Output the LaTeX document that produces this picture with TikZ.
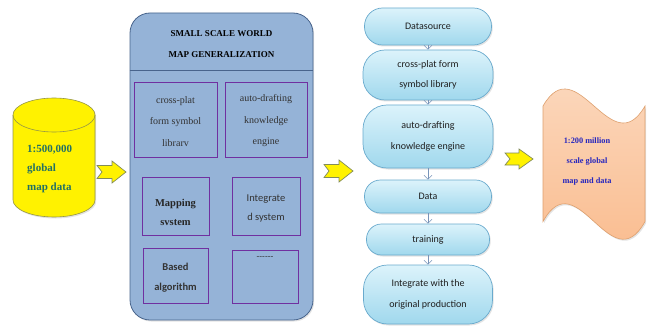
\documentclass[tikz,border=0pt]{standalone}
\usepackage{fontspec}
\setmainfont{Liberation Serif}
\newfontfamily\calibri{Carlito}
\usetikzlibrary{arrows.meta,shadows}
\definecolor{cylborder}{RGB}{150,150,70}
\definecolor{cyltext}{RGB}{35,112,100}
\definecolor{arrborder}{RGB}{130,140,90}
\definecolor{bigfill}{RGB}{149,179,215}
\definecolor{bigborder}{RGB}{72,100,140}
\definecolor{innerborder}{RGB}{112,48,160}
\definecolor{innertext}{RGB}{50,50,50}
\definecolor{rtop}{RGB}{220,243,251}
\definecolor{rbot}{RGB}{160,216,237}
\definecolor{rborder}{RGB}{105,170,205}
\definecolor{connc}{RGB}{120,148,185}
\definecolor{wtop}{RGB}{252,220,196}
\definecolor{wbot}{RGB}{249,184,136}
\definecolor{wborder}{RGB}{222,160,110}
\definecolor{wtext}{RGB}{38,38,190}
\begin{document}
\begin{tikzpicture}[x=1pt,y=-1pt,
  softshadow/.style={drop shadow={opacity=0.22,shadow xshift=1.2pt,shadow yshift=-1.5pt}},
  cyl/.style={draw=cylborder,fill=yellow,line width=0.6pt,softshadow},
  blockarrow/.style={draw=arrborder,fill=yellow,line width=0.7pt,line join=miter},
  bigbox/.style={draw=bigborder,fill=bigfill,line width=0.8pt,rounded corners=20pt,softshadow,inner sep=0pt},
  innerbox/.style={draw=innerborder,line width=0.8pt,inner sep=0pt},
  serifin/.style={font=\fontsize{10}{21.5}\selectfont,text=innertext,align=center,inner sep=0pt},
  rnode/.style={draw=rborder,line width=0.7pt,top color=rtop,bottom color=rbot,softshadow,
    font=\calibri\fontsize{10}{20.5}\selectfont,text=black!88,align=center,inner sep=0pt,minimum width=128pt},
  conn/.style={draw=connc,line width=0.6pt,-{Straight Barb[length=4pt,width=8pt]}},
  wave/.style={draw=wborder,top color=wtop,bottom color=wbot,line width=0.6pt,softshadow}
]
\useasboundingbox (0,0) rectangle (647,326);

% input cylinder
\path[cyl] (13,115) -- (13,200) arc[start angle=180,end angle=360,x radius=41pt,y radius=17pt]
  -- (95,115) arc[start angle=0,end angle=180,x radius=41pt,y radius=17pt] -- cycle;
\draw[cylborder,line width=0.6pt] (13,115) arc[start angle=180,end angle=360,x radius=41pt,y radius=17pt];
\node[anchor=west,align=left,inner sep=0pt,text=cyltext,font=\bfseries\fontsize{11}{19}\selectfont] (src) at (27,169)
  {1:500,000\\global\\map data};

% block arrows
\path[blockarrow] (97,165.5) -- (112,165.5) -- (112,161) -- (126,172) -- (112,183) -- (112,178.5) -- (97,178.5) -- (102,172) -- cycle;
\path[blockarrow] (324,164.5) -- (339,164.5) -- (339,160) -- (353,171) -- (339,182) -- (339,177.5) -- (324,177.5) -- (329,171) -- cycle;
\path[blockarrow] (505,153) -- (519,153) -- (519,149) -- (533,159) -- (519,169) -- (519,165) -- (505,165) -- (510,159) -- cycle;

% big generalization box
\node[bigbox,minimum width=183pt,minimum height=307pt] (gen) at (221.5,166.5) {};
\draw[bigborder,line width=0.8pt] (gen.west |- 0,70) -- (gen.east |- 0,70);
\node[align=center,inner sep=0pt,font=\bfseries\fontsize{9}{21}\selectfont] (title) at (221.5,44)
  {SMALL SCALE WORLD\\MAP GENERALIZATION};

\node[innerbox,minimum width=83pt,minimum height=75pt] (b1) at (175.5,119.5) {};
\node[serifin] (t1) at (175.5,121.5) {cross-plat\\form symbol\\librarv};
\node[innerbox,minimum width=82pt,minimum height=75pt] (b2) at (266,119.5) {};
\node[serifin] (t2) at (266,121) {auto-drafting\\knowledge\\engine};

\node[innerbox,minimum width=67pt,minimum height=58pt] (b3) at (175.5,206) {};
\node[align=center,inner sep=0pt,text=black!85,font=\bfseries\fontsize{10.5}{19}\selectfont] (t3) at (175.5,212) {Mapping\\svstem};
\node[innerbox,minimum width=68pt,minimum height=58pt] (b4) at (266,206) {};
\node[align=center,inner sep=0pt,text=black!80,font=\calibri\fontsize{10.5}{19}\selectfont] (t4) at (266,208.5) {Integrate\\d system};
\node[innerbox,minimum width=65pt,minimum height=55pt] (b5) at (175.5,275.5) {};
\node[align=center,inner sep=0pt,text=black!80,font=\calibri\bfseries\fontsize{10.5}{20}\selectfont] (t5) at (175.5,278) {Based\\algorithm};
\node[innerbox,minimum width=66pt,minimum height=53pt] (b6) at (265,276.5) {};
\node[inner sep=0pt,text=black!80,font=\calibri\fontsize{9}{12}\selectfont] (t6) at (265,258) {------};

% process column
\node[rnode,minimum width=127pt,minimum height=37pt,rounded corners=18pt] (ds) at (428,26.5) {Datasource};
\node[rnode,minimum width=130pt,minimum height=50pt,rounded corners=22pt] (cp) at (428,75) {cross-plat form\\symbol library};
\node[rnode,minimum width=130pt,minimum height=63pt,rounded corners=24pt] (ad) at (428,136.5) {auto-drafting\\knowledge engine};
\node[rnode,minimum width=127pt,minimum height=33pt,rounded corners=16pt] (da) at (428,196.5) {Data};
\node[rnode,minimum width=123pt,minimum height=31pt,rounded corners=15pt] (tr) at (428,239.5) {training};
\node[rnode,minimum width=129pt,minimum height=59pt,rounded corners=24pt] (ig) at (428,294.5) {Integrate with the\\original production};

\draw[conn] (ds.south) -- (cp.north);
\draw[conn] (cp.south) -- (ad.north);
\draw[conn] (ad.south) -- (da.north);
\draw[conn] (da.south) -- (tr.north);
\draw[conn] (tr.south) -- (ig.north);

% output wave
\path[wave] (543,106) .. controls (577,47) and (611,165) .. (645,106) -- (645,221.5)
  .. controls (611,283) and (577,160) .. (543,221.5) -- cycle;
\node[align=center,inner sep=0pt,text=wtext,font=\bfseries\fontsize{8.3}{20}\selectfont] (out) at (587,162)
  {1:200 million\\scale global\\map and data};
\end{tikzpicture}
\end{document}
